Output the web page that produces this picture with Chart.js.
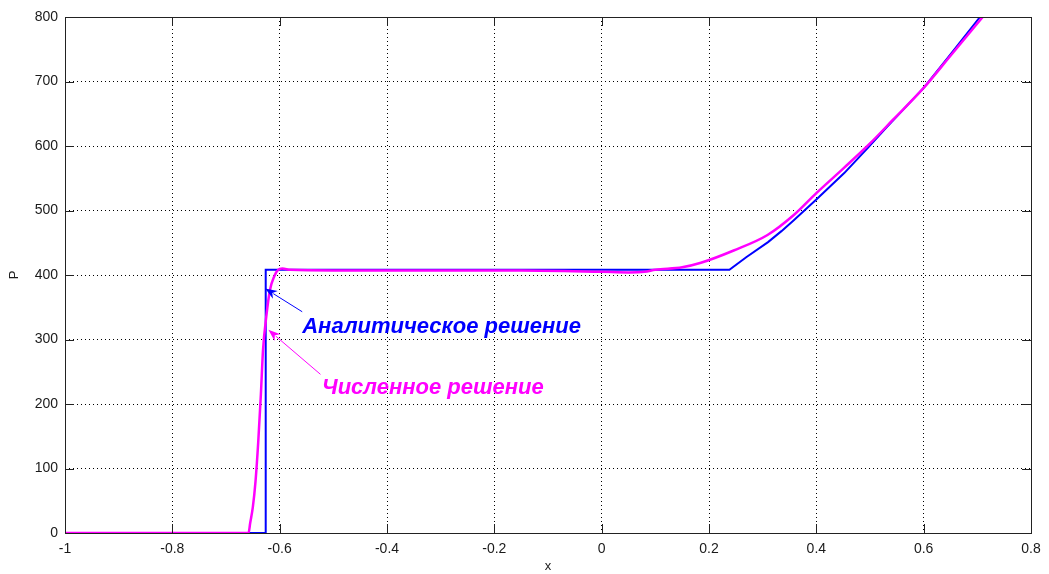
<!DOCTYPE html>
<html>
<head>
<meta charset="utf-8">
<script src="https://cdn.jsdelivr.net/npm/chart.js@4/dist/chart.umd.min.js"></script>
<style>
  html, body { margin: 0; padding: 0; background: #fff; }
  #wrap { width: 1049px; height: 574px; }
</style>
</head>
<body>
<div id="wrap"><canvas id="chart"></canvas></div>
<script>
// analytic solution (blue)
const analyticX = [-1, -0.626, -0.626, 0.238, 0.27, 0.31, 0.335, 0.358, 0.4, 0.452, 0.496, 0.53, 0.6, 0.65, 0.705];
const analyticP = [0, 0, 408, 408, 428, 451, 468, 485, 517, 558, 597, 628, 690, 742, 800];

// numerical solution (magenta)
const numericX = [-1, -0.658, -0.655, -0.65, -0.645, -0.64, -0.635, -0.631, -0.625, -0.618, -0.61, -0.603, -0.595,
  -0.58, -0.5, -0.3, -0.15, 0, 0.05, 0.08, 0.1, 0.15, 0.185, 0.246, 0.309, 0.358, 0.4, 0.45, 0.5, 0.542, 0.6, 0.65, 0.71];
const numericP = [0, 0, 15, 40, 80, 140, 215, 284, 335, 377, 398, 408, 410,
  408, 407, 407, 407, 405, 404, 405, 408, 412, 419, 438, 462, 493, 527, 565, 604, 640, 690, 740, 800];

const xTicks = [-1, -0.8, -0.6, -0.4, -0.2, 0, 0.2, 0.4, 0.6, 0.8];
const yTicks = [0, 100, 200, 300, 400, 500, 600, 700, 800];

const analyticLabel = "Аналитическое решение";
const numericLabel = "Численное решение";

// annotation anchors in data units: [tailX, tailY, tipX, tipY], text [x, baselineY]
const analyticArrow = [-0.558, 343, -0.627, 379];
const numericArrow = [-0.524, 246, -0.621, 315];
const analyticText = [-0.558, 310];
const numericText = [-0.521, 216];

function toPoints(xs, ys) {
  return xs.map((x, i) => ({ x: x, y: ys[i] }));
}

function drawArrow(ctx, sx, sy, ex, ey, color) {
  const ang = Math.atan2(ey - sy, ex - sx);
  const len = 12, half = 4.5;
  ctx.save();
  ctx.strokeStyle = color;
  ctx.fillStyle = color;
  ctx.lineWidth = 1;
  ctx.beginPath();
  ctx.moveTo(sx, sy);
  ctx.lineTo(ex - Math.cos(ang) * len * 0.8, ey - Math.sin(ang) * len * 0.8);
  ctx.stroke();
  ctx.beginPath();
  ctx.moveTo(ex, ey);
  ctx.lineTo(ex - Math.cos(ang) * len - Math.sin(ang) * half, ey - Math.sin(ang) * len + Math.cos(ang) * half);
  ctx.lineTo(ex - Math.cos(ang) * len * 0.7, ey - Math.sin(ang) * len * 0.7);
  ctx.lineTo(ex - Math.cos(ang) * len + Math.sin(ang) * half, ey - Math.sin(ang) * len - Math.cos(ang) * half);
  ctx.closePath();
  ctx.fill();
  ctx.restore();
}

const matlabAxes = {
  id: 'matlabAxes',
  afterDatasetsDraw(chart) {
    const { ctx, chartArea: a, scales: { x, y } } = chart;
    ctx.save();
    ctx.strokeStyle = '#222';
    ctx.lineWidth = 1;
    ctx.beginPath();
    xTicks.forEach(v => {
      const px = Math.round(x.getPixelForValue(v)) + 0.5;
      ctx.moveTo(px, a.bottom); ctx.lineTo(px, a.bottom - 9);
      ctx.moveTo(px, a.top); ctx.lineTo(px, a.top + 9);
    });
    yTicks.forEach(v => {
      const py = Math.round(y.getPixelForValue(v)) + 0.5;
      ctx.moveTo(a.left, py); ctx.lineTo(a.left + 9, py);
      ctx.moveTo(a.right, py); ctx.lineTo(a.right - 9, py);
    });
    ctx.stroke();
    ctx.strokeRect(Math.round(a.left) + 0.5, Math.round(a.top) + 0.5,
      Math.round(a.right - a.left), Math.round(a.bottom - a.top));
    ctx.restore();

    drawArrow(ctx, x.getPixelForValue(analyticArrow[0]), y.getPixelForValue(analyticArrow[1]),
      x.getPixelForValue(analyticArrow[2]), y.getPixelForValue(analyticArrow[3]), '#0000ff');
    drawArrow(ctx, x.getPixelForValue(numericArrow[0]), y.getPixelForValue(numericArrow[1]),
      x.getPixelForValue(numericArrow[2]), y.getPixelForValue(numericArrow[3]), '#ff00ff');

    ctx.save();
    ctx.font = 'italic bold 22px "Liberation Sans", Arial, sans-serif';
    ctx.textBaseline = 'alphabetic';
    ctx.textAlign = 'left';
    ctx.fillStyle = '#0000ff';
    ctx.fillText(analyticLabel, x.getPixelForValue(analyticText[0]), y.getPixelForValue(analyticText[1]));
    ctx.fillStyle = '#ff00ff';
    ctx.fillText(numericLabel, x.getPixelForValue(numericText[0]), y.getPixelForValue(numericText[1]));
    ctx.restore();
  }
};

const tickFont = { family: '"Liberation Sans", Arial, sans-serif', size: 14 };

new Chart(document.getElementById('chart'), {
  type: 'line',
  data: {
    datasets: [
      {
        label: numericLabel,
        data: toPoints(numericX, numericP),
        borderColor: '#ff00ff',
        borderWidth: 2.5,
        pointRadius: 0,
        cubicInterpolationMode: 'monotone',
        fill: false
      },
      {
        label: analyticLabel,
        data: toPoints(analyticX, analyticP),
        borderColor: '#0000ff',
        borderWidth: 2,
        pointRadius: 0,
        tension: 0,
        fill: false
      }
    ]
  },
  options: {
    responsive: true,
    maintainAspectRatio: false,
    animation: false,
    layout: { padding: { top: 17, right: 18, left: 0, bottom: 0 } },
    plugins: { legend: { display: false }, tooltip: { enabled: false } },
    scales: {
      x: {
        type: 'linear',
        min: -1,
        max: 0.8,
        afterBuildTicks: s => { s.ticks = xTicks.map(v => ({ value: v })); },
        afterFit: s => { s.height = 41; },
        grid: { color: '#000', lineWidth: 1, drawTicks: false },
        border: { display: false, dash: [1, 3] },
        ticks: { color: '#1a1a1a', font: tickFont, padding: 8, maxRotation: 0, callback: v => String(Math.round(v * 10) / 10) },
        title: { display: true, text: 'x', color: '#1a1a1a', font: { family: '"Liberation Sans", Arial, sans-serif', size: 13 }, padding: 0 }
      },
      y: {
        min: 0,
        max: 800,
        afterBuildTicks: s => { s.ticks = yTicks.map(v => ({ value: v })); },
        afterFit: s => { s.width = 65; },
        grid: { color: '#000', lineWidth: 1, drawTicks: false },
        border: { display: false, dash: [1, 3] },
        ticks: { color: '#1a1a1a', font: tickFont, padding: 7 },
        title: { display: true, text: 'P', color: '#1a1a1a', font: { family: '"Liberation Sans", Arial, sans-serif', size: 13 }, padding: { top: 7, bottom: 0 } }
      }
    }
  },
  plugins: [matlabAxes]
});
</script>
</body>
</html>
